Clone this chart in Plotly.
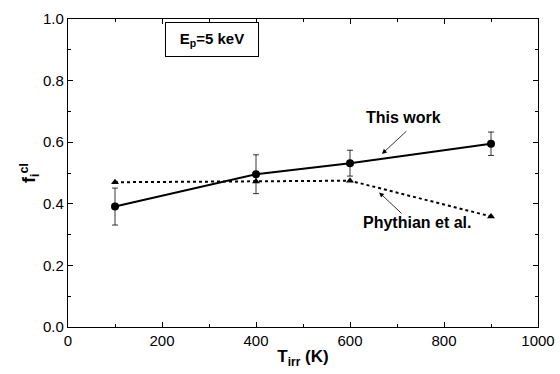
import plotly.graph_objects as go

# Cluster fraction vs. irradiation temperature
t_this = [100, 400, 600, 900]
f_this = [0.391, 0.496, 0.532, 0.595]
err_this = [0.06, 0.063, 0.042, 0.038]

t_phyth = [100, 400, 600, 900]
f_phyth = [0.470, 0.472, 0.475, 0.359]

x_ticks = [0, 200, 400, 600, 800, 1000]
y_ticks = [0.0, 0.2, 0.4, 0.6, 0.8, 1.0]

FONT = "Liberation Sans, Arial, Helvetica, sans-serif"

fig = go.Figure()

fig.add_trace(go.Scatter(
    x=t_phyth, y=f_phyth, mode="lines+markers",
    line=dict(color="black", width=2, dash="3px,3px"),
    marker=dict(symbol="triangle-up", size=7, color="black"),
    showlegend=False,
))

fig.add_trace(go.Scatter(
    x=t_this, y=f_this, mode="lines+markers",
    line=dict(color="black", width=2),
    marker=dict(symbol="circle", size=8, color="black"),
    error_y=dict(type="data", array=err_this, visible=True,
                 color="black", thickness=0.8, width=3),
    showlegend=False,
))

axis_common = dict(
    showline=True, linecolor="black", linewidth=1.2, mirror="ticks",
    ticks="inside", ticklen=5, tickwidth=1, tickcolor="black",
    showgrid=False, zeroline=False, automargin=False,
    tickfont=dict(family=FONT, size=15, color="black"),
)

fig.update_xaxes(
    range=[0, 1000], tickvals=x_ticks, ticktext=[str(v) for v in x_ticks],
    minor=dict(ticks="inside", ticklen=3, dtick=100, tickcolor="black"),
    title=dict(text="<b>T<sub>irr</sub> (K)</b>", standoff=2,
               font=dict(family=FONT, size=17, color="black")),
    **axis_common,
)
fig.update_yaxes(
    range=[0, 1.0], tickvals=y_ticks, ticktext=[f"{v:.1f}" for v in y_ticks],
    minor=dict(ticks="inside", ticklen=3, dtick=0.1, tickcolor="black"),
    title=dict(text="<b>f<sub>i</sub><sup>cl</sup></b>", standoff=2,
               font=dict(family=FONT, size=18, color="black")),
    **axis_common,
)

annotations = [
    dict(x=306, y=0.935, xref="x", yref="y", showarrow=False,
         text="<b>E<sub>p</sub>=5 keV</b>",
         font=dict(family=FONT, size=15, color="black"),
         bordercolor="black", borderwidth=1, borderpad=0,
         width=92, height=33, bgcolor="white"),
    dict(x=713, y=0.679, xref="x", yref="y", showarrow=False,
         text="<b>This work</b>",
         font=dict(family=FONT, size=16, color="black")),
    dict(x=668, y=0.562, ax=723, ay=0.640, xref="x", yref="y",
         axref="x", ayref="y", text="", showarrow=True,
         arrowhead=2, arrowsize=1.2, arrowwidth=0.8, arrowcolor="black"),
    dict(x=743, y=0.338, xref="x", yref="y", showarrow=False,
         text="<b>Phythian et al.</b>",
         font=dict(family=FONT, size=16, color="black")),
    dict(x=662, y=0.437, ax=713, ay=0.364, xref="x", yref="y",
         axref="x", ayref="y", text="", showarrow=True,
         arrowhead=2, arrowsize=1.2, arrowwidth=0.8, arrowcolor="black"),
]

fig.update_layout(
    width=560, height=374,
    margin=dict(l=68, r=22, t=19, b=47),
    paper_bgcolor="white", plot_bgcolor="white",
    annotations=annotations,
    font=dict(family=FONT, color="black"),
)

fig.write_html("out.html")
